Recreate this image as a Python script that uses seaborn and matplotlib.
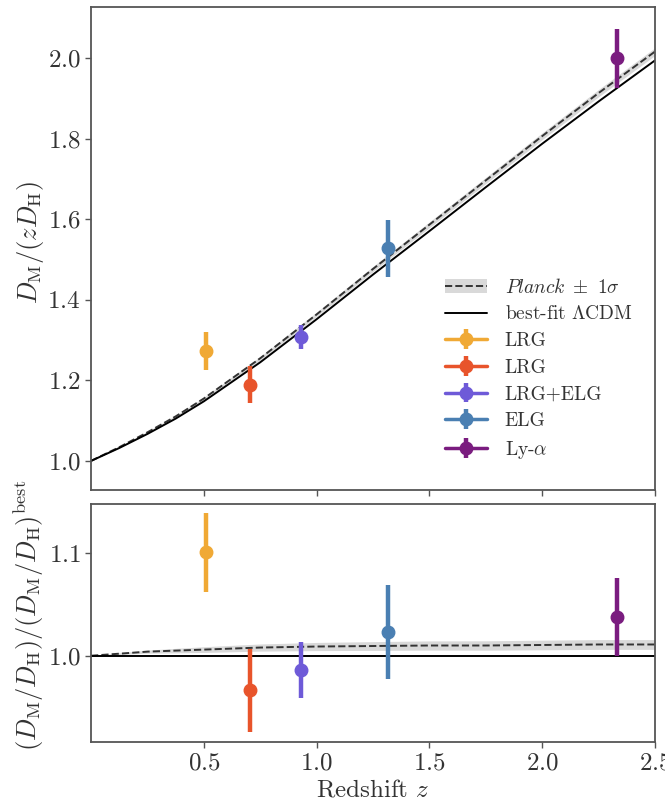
import numpy as np
import matplotlib
matplotlib.use("Agg")
import matplotlib.pyplot as plt
import seaborn as sns
from matplotlib.patches import Patch
from matplotlib.lines import Line2D

# model curves
z_model = [0.0, 0.125, 0.25, 0.375, 0.5, 0.75, 1.0, 1.25, 1.5, 1.75, 2.0, 2.25, 2.5]
best_fit = [1.0, 1.032, 1.067, 1.105, 1.148, 1.245, 1.352, 1.463, 1.571, 1.680, 1.788, 1.893, 1.995]
planck_top = [1.0, 1.034, 1.071, 1.1105, 1.155, 1.255, 1.364, 1.477, 1.587, 1.697, 1.807, 1.914, 2.017]
planck_top_lo = [1.0, 1.0332, 1.0698, 1.1081, 1.1517, 1.2506, 1.3588, 1.4706, 1.5796, 1.6891, 1.7983, 1.9047, 2.0073]
planck_top_hi = [1.0, 1.0349, 1.0730, 1.1130, 1.1581, 1.2593, 1.3696, 1.4832, 1.5938, 1.7045, 1.8151, 1.9229, 2.0265]
planck_ratio = [1.0, 1.002, 1.004, 1.005, 1.006, 1.008, 1.009, 1.0095, 1.010, 1.010, 1.0105, 1.011, 1.011]
planck_ratio_lo = [1.0, 1.0012, 1.0025, 1.0028, 1.0032, 1.0045, 1.005, 1.0052, 1.0055, 1.0054, 1.0058, 1.0062, 1.0062]
planck_ratio_hi = [1.0, 1.0028, 1.0055, 1.0072, 1.0088, 1.0115, 1.013, 1.0138, 1.0145, 1.0146, 1.0152, 1.0158, 1.0158]

# measurements
tracers = ["LRG", "LRG", "LRG+ELG", "ELG", r"Ly-$\alpha$"]
z_eff = [0.51, 0.706, 0.93, 1.317, 2.33]
dm_zdh = [1.273, 1.189, 1.307, 1.528, 2.000]
dm_zdh_err = [0.046, 0.046, 0.030, 0.070, 0.074]
ratio = [1.101, 0.966, 0.986, 1.023, 1.038]
ratio_err = [0.039, 0.041, 0.027, 0.046, 0.038]
colors = ["#f0a935", "#e8542b", "#6e5ad8", "#4a7fb2", "#7a1c7f"]

sns.set_style("ticks")
plt.rcParams.update({
    "font.family": ["cmr10", "DejaVu Serif"],
    "mathtext.fontset": "cm",
    "axes.formatter.use_mathtext": True,
    "axes.edgecolor": "#555555",
    "axes.linewidth": 1.3,
    "xtick.color": "#555555",
    "ytick.color": "#555555",
    "xtick.labelcolor": "#333333",
    "ytick.labelcolor": "#333333",
    "axes.labelcolor": "#333333",
    "xtick.labelsize": 18,
    "ytick.labelsize": 18,
    "axes.labelsize": 19,
})

fig = plt.figure(figsize=(6.65, 8.07), dpi=100)
ax1 = fig.add_axes([0.137, 0.393, 0.848, 0.598])
ax2 = fig.add_axes([0.137, 0.081, 0.848, 0.294])

# top panel
ax1.fill_between(z_model, planck_top_lo, planck_top_hi, color="#d9d9d9", lw=0)
sns.lineplot(x=z_model, y=planck_top, ax=ax1, color="#333333", ls="--", lw=1.4)
sns.lineplot(x=z_model, y=best_fit, ax=ax1, color="black", lw=1.4)
for zz, yy, ee, c, lab in zip(z_eff, dm_zdh, dm_zdh_err, colors, tracers):
    ax1.errorbar([zz], [yy], yerr=[ee], fmt="o-", color=c, ms=9, elinewidth=3.2,
                 lw=2.5, capsize=0, label=lab)

ax1.set_xlim(0, 2.5)
ax1.set_ylim(0.928, 2.127)
ax1.set_yticks([1.0, 1.2, 1.4, 1.6, 1.8, 2.0])
ax1.set_xticks([0.5, 1.0, 1.5, 2.0, 2.5])
ax1.tick_params(labelbottom=False, length=4, width=1)
ax1.set_ylabel(r"$D_{\mathrm{M}}/(z D_{\mathrm{H}})$")
ax1.yaxis.set_label_coords(-0.08, 0.513)

handles, labels = ax1.get_legend_handles_labels()
planck_h = (Patch(facecolor="#d9d9d9", edgecolor="none"),
            Line2D([0], [0], color="#333333", ls="--", lw=1.4))
best_h = Line2D([0], [0], color="black", lw=1.4)
ax1.legend([planck_h, best_h] + handles,
           [r"$Planck\ \pm\ 1\sigma$", r"best-fit $\Lambda$CDM"] + labels,
           loc="lower right", bbox_to_anchor=(0.995, 0.02), frameon=False,
           fontsize=14, handlelength=2.2, labelspacing=0.45, borderaxespad=0.6,
           handletextpad=0.9, labelcolor="#333333")

# bottom panel
ax2.fill_between(z_model, planck_ratio_lo, planck_ratio_hi, color="#d9d9d9", lw=0)
sns.lineplot(x=z_model, y=planck_ratio, ax=ax2, color="#333333", ls="--", lw=1.4)
ax2.axhline(1.0, color="black", lw=1.4)
for zz, yy, ee, c in zip(z_eff, ratio, ratio_err, colors):
    ax2.errorbar([zz], [yy], yerr=[ee], fmt="o", color=c, ms=9, elinewidth=3.2, capsize=0)

ax2.set_xlim(0, 2.5)
ax2.set_ylim(0.916, 1.148)
ax2.set_yticks([1.0, 1.1])
ax2.set_xticks([0.5, 1.0, 1.5, 2.0, 2.5])
ax2.tick_params(length=4, width=1)
ax2.set_xlabel(r"Redshift $z$", fontsize=18)
ax2.set_ylabel(r"$(D_{\mathrm{M}}/D_{\mathrm{H}})/(D_{\mathrm{M}}/D_{\mathrm{H}})^{\mathrm{best}}$")
ax2.yaxis.set_label_coords(-0.08, 0.53)

fig.savefig("out.png", dpi=100)
